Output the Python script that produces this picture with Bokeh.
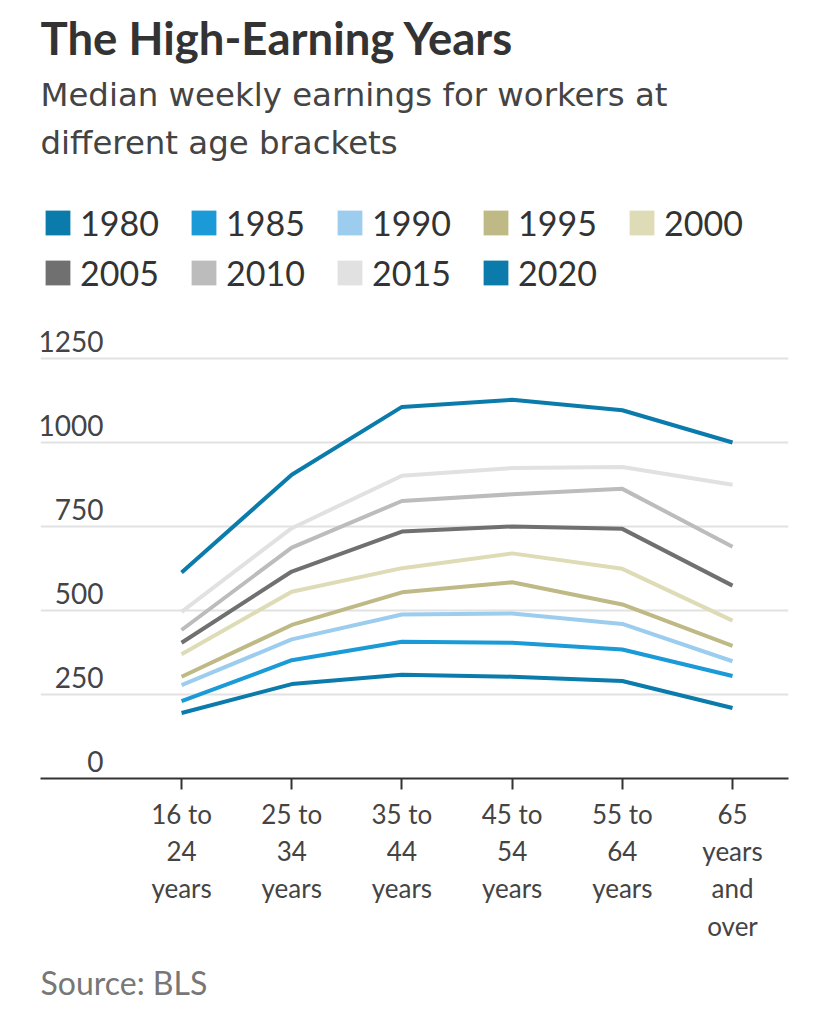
from bokeh.plotting import figure
from bokeh.models import Range1d, FixedTicker, Label, Legend, LegendItem, Title
from bokeh.embed import file_html
from bokeh.resources import INLINE

# ---- data ----
age_labels = ["16 to\n24\nyears", "25 to\n34\nyears", "35 to\n44\nyears",
              "45 to\n54\nyears", "55 to\n64\nyears", "65\nyears\nand\nover"]
years = ["1980", "1985", "1990", "1995", "2000", "2005", "2010", "2015", "2020"]
v1980 = [195, 281, 309, 303, 290, 210]
v1985 = [230, 352, 407, 404, 384, 305]
v1990 = [278, 414, 488, 491, 460, 349]
v1995 = [303, 457, 554, 584, 518, 395]
v2000 = [370, 556, 626, 670, 624, 470]
v2005 = [404, 616, 735, 750, 743, 574]
v2010 = [442, 687, 826, 846, 862, 690]
v2015 = [496, 745, 901, 924, 927, 874]
v2020 = [613, 904, 1106, 1127, 1096, 1000]
y_ticks = [0, 250, 500, 750, 1000, 1250]

series = [v1980, v1985, v1990, v1995, v2000, v2005, v2010, v2015, v2020]
colors = ["#0b7bab", "#1a9ad7", "#9ccdef", "#bfb986", "#dedbb7",
          "#707070", "#bcbcbc", "#e1e1e1", "#0b7bab"]

FONT = "Lato"
SUB_FONT = "DejaVu Sans"
xs = list(range(len(age_labels)))

p = figure(frame_width=748, frame_height=778,
           x_range=Range1d(-1.28, 5.508), y_range=Range1d(0, 2315.5),
           output_backend="svg", toolbar_location=None,
           min_border_left=40, min_border_right=32,
           min_border_top=0, min_border_bottom=238)
p.outline_line_color = None
p.background_fill_color = "white"
p.border_fill_color = "white"

# axes
p.yaxis.visible = False
p.ygrid.ticker = FixedTicker(ticks=y_ticks)
p.ygrid.grid_line_color = "#e2e2e2"
p.ygrid.grid_line_width = 2
p.xgrid.visible = False

xa = p.xaxis[0]
xa.ticker = FixedTicker(ticks=xs)
xa.major_label_overrides = {i: lab for i, lab in enumerate(age_labels)}
xa.axis_line_color = "#333333"
xa.axis_line_width = 2
xa.major_tick_line_color = "#333333"
xa.major_tick_line_width = 2
xa.major_tick_out = 11
xa.major_tick_in = 0
xa.minor_tick_line_color = None
xa.major_label_text_font = FONT
xa.major_label_text_font_size = "26px"
xa.major_label_text_color = "#444444"
xa.major_label_text_line_height = 1.17
xa.major_label_standoff = 8

# y tick labels (above gridlines, right aligned)
for t in y_ticks:
    p.add_layout(Label(x=63, x_units="screen", y=t, y_units="data", y_offset=7,
                       text=str(t), text_align="right", text_baseline="bottom",
                       text_font=FONT, text_font_size="28px", text_color="#444444"))

# lines
for vals, c in zip(series, colors):
    p.line(xs, vals, line_color=c, line_width=4)

# legend (square swatches, zero-height bars so only the legend shows them)
items = []
for yr, c in zip(years, colors):
    r = p.vbar(x=[xs[0]], top=[0], bottom=[0], width=0.01,
               fill_color=c, line_color=None)
    items.append(LegendItem(label=yr, renderers=[r]))
legend = Legend(items=items, orientation="horizontal", ncols=5,
                location=(2, 485),
                glyph_width=31, glyph_height=31, label_standoff=7, spacing=9,
                label_width=99, label_height=40,
                label_text_font=FONT, label_text_font_size="34px",
                label_text_color="#333333", padding=0, margin=0,
                border_line_alpha=0, background_fill_alpha=0)
p.add_layout(legend, "center")

# title, subtitle
p.add_layout(Label(x=0, y=741, x_units="screen", y_units="screen",
                   text="The High-Earning Years", text_font=FONT,
                   text_font_style="bold", text_font_size="45.5px",
                   text_color="#333333", text_baseline="alphabetic"))
p.add_layout(Label(x=0, y=684, x_units="screen", y_units="screen",
                   text="Median weekly earnings for workers at", text_font=SUB_FONT,
                   text_font_size="32.4px", text_color="#444444",
                   text_baseline="alphabetic"))
p.add_layout(Label(x=0, y=636, x_units="screen", y_units="screen",
                   text="different age brackets", text_font=SUB_FONT,
                   text_font_size="32.4px", text_color="#444444",
                   text_baseline="alphabetic"))

# source note
src = Title(text="Source: BLS", align="left", offset=0, standoff=32,
            text_font=FONT, text_font_style="normal", text_font_size="32px",
            text_color="#777777")
p.add_layout(src, "below")

open("out.html", "w").write(file_html(p, INLINE))
